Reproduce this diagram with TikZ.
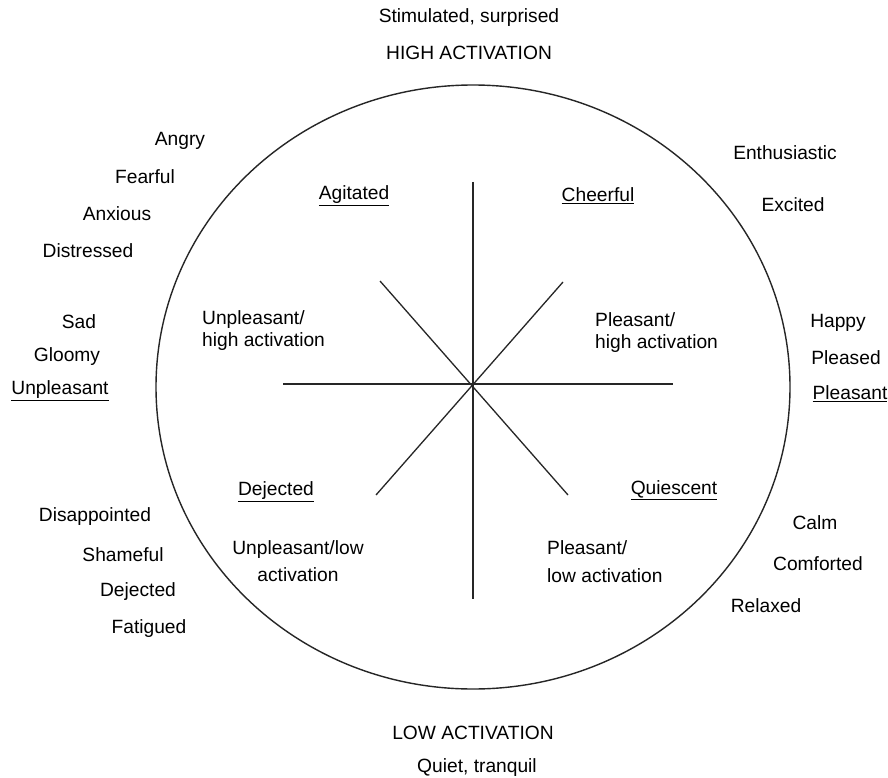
\documentclass[tikz,border=0pt]{standalone}
\usepackage{fontspec}
\setmainfont{Liberation Sans}
\begin{document}
\begin{tikzpicture}[x=1pt,y=-1pt,
  lbl/.style={inner sep=0pt,font=\fontsize{19.2}{22}\selectfont},
  mlbl/.style={lbl,align=left,anchor=west},
  clbl/.style={lbl,align=center},
  axis/.style={line width=1.3pt,black!85},
  rim/.style={line width=1.4pt,black!85}]
\useasboundingbox (0,0) rectangle (888,778);
\fill[white] (0,0) rectangle (888,778);
% circle
\draw[rim] (473,387) ellipse [x radius=317pt, y radius=302pt];
% spokes
\coordinate (c) at (473,386);
\coordinate (vt) at (473,182);
\coordinate (vb) at (473,599);
\coordinate (hl) at (283,384);
\coordinate (hr) at (673,384);
\coordinate (ul) at (380,281);
\coordinate (lr) at (568,495);
\coordinate (ur) at (563,282);
\coordinate (ll) at (376,495);
\draw[axis] (vt) -- (vb);
\draw[axis] (hl) -- (hr);
\draw[axis] (ul) -- (lr);
\draw[axis] (ur) -- (ll);
% top/bottom
\node[lbl] (stim) at (469,18) {Stimulated, surprised};
\node[lbl] (high) at (469,53) {HIGH ACTIVATION};
\node[lbl] (low) at (473,733) {LOW ACTIVATION};
\node[lbl] (quiet) at (477,768) {Quiet, tranquil};
% upper left outside
\node[lbl] (angry) at (180,141) {Angry};
\node[lbl] (fearful) at (145,177) {Fearful};
\node[lbl] (anxious) at (117,214) {Anxious};
\node[lbl] (distressed) at (88,251) {Distressed};
\node[lbl] (sad) at (79,322) {Sad};
\node[lbl] (gloomy) at (67,357) {Gloomy};
\node[lbl] (unpl) at (60,391) {\underline{Unpleasant}};
% upper right outside
\node[lbl] (enth) at (785,153) {Enthusiastic};
\node[lbl] (excited) at (793,205) {Excited};
\node[lbl] (happy) at (838,323) {Happy};
\node[lbl] (pleased) at (846,358) {Pleased};
\node[lbl] (pleas) at (850,394) {\underline{Pleasant}};
% lower left outside
\node[lbl] (disap) at (95,517) {Disappointed};
\node[lbl] (shame) at (123,555) {Shameful};
\node[lbl] (deject) at (138,592) {Dejected};
\node[lbl] (fatig) at (149,629) {Fatigued};
% lower right outside
\node[lbl] (calm) at (815,523) {Calm};
\node[lbl] (comf) at (818,564) {Comforted};
\node[lbl] (relax) at (766,606) {Relaxed};
% inside
\node[lbl] (agit) at (354,196) {\underline{Agitated}};
\node[lbl] (cheer) at (598,196) {\underline{Cheerful}};
\node[lbl] (dejin) at (276,492) {\underline{Dejected}};
\node[lbl] (quies) at (674,490) {\underline{Quiescent}};
\node[mlbl] (uph) at (202,331) {Unpleasant/\\high activation};
\node[mlbl] (plh) at (595,333) {Pleasant/\\high activation};
\node[clbl,font=\fontsize{19.2}{27}\selectfont] (upl) at (298,561) {Unpleasant/low\\activation};
\node[mlbl,font=\fontsize{19.2}{28}\selectfont] (pll) at (547,562) {Pleasant/\\low activation};
\end{tikzpicture}
\end{document}
